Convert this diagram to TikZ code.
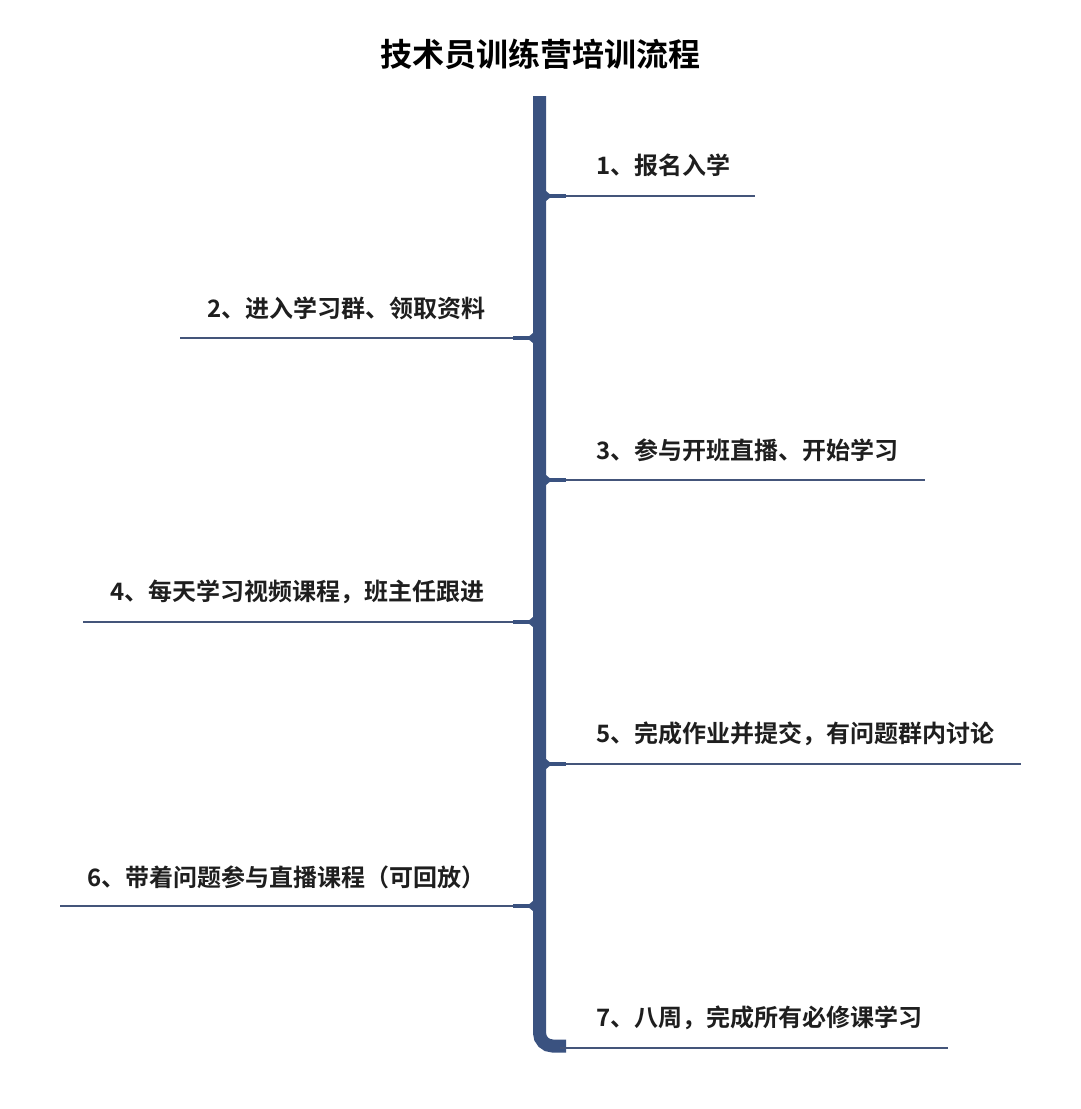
\documentclass[tikz,border=0pt]{standalone}
\usepackage{fontspec}
\newfontfamily\cjk{Noto Sans CJK SC Bold}
\definecolor{spinec}{HTML}{3A5280}
\definecolor{branchc}{HTML}{44557A}
\definecolor{txtc}{HTML}{1E1E1E}
\tikzset{
  spineline/.style={draw=spinec, line width=13pt},
  branchline/.style={draw=branchc, line width=2.6pt},
  stubline/.style={draw=spinec, line width=4.5pt},
  steptext/.style={inner sep=0pt, text=txtc, font=\cjk\fontsize{24}{26}\selectfont},
  titletext/.style={inner sep=0pt, text=black, font=\cjk\fontsize{32}{34}\selectfont}
}
\begin{document}
\begin{tikzpicture}[x=1pt,y=-1pt]
\useasboundingbox (0,0) rectangle (1080,1109);
\fill[white] (0,0) rectangle (1080,1109);

\node[titletext] (title) at (540,54) {技术员训练营培训流程};

% spine
\coordinate (stop) at (539.5,96);
\coordinate (sbot) at (539.5,1046);
\coordinate (sturn) at (566,1046);
\draw[spineline, rounded corners=13pt] (stop) -- (sbot) -- (sturn);

% right branches
\coordinate (j1) at (546,196);  \coordinate (e1) at (755,196);
\coordinate (j3) at (546,480);  \coordinate (e3) at (925,480);
\coordinate (j5) at (546,764);  \coordinate (e5) at (1021,764);
\coordinate (j7) at (560,1048); \coordinate (e7) at (948,1048);
% left branches
\coordinate (j2) at (533,338);  \coordinate (e2) at (180,338);
\coordinate (j4) at (533,622);  \coordinate (e4) at (83,622);
\coordinate (j6) at (533,906);  \coordinate (e6) at (60,906);

\foreach \i in {1,3,5,7,2,4,6} {
  \draw[branchline] (j\i) -- (e\i);
}
\foreach \i/\s in {1/20,3/20,5/20,2/-20,4/-20,6/-20} {
  \draw[stubline] (j\i) -- ++(\s,0);
  \fill[spinec] (j\i) ++(0,-5) -- ++(0,10) -- ++(0.3*\s,-5) -- cycle;
}

\node[steptext, anchor=west] (t1) at (596,165) {1、报名入学};
\node[steptext, anchor=west] (t2) at (207,308) {2、进入学习群、领取资料};
\node[steptext, anchor=west] (t3) at (596,450) {3、参与开班直播、开始学习};
\node[steptext, anchor=west] (t4) at (110,592) {4、每天学习视频课程，班主任跟进};
\node[steptext, anchor=west] (t5) at (596,734) {5、完成作业并提交，有问题群内讨论};
\node[steptext, anchor=west] (t6) at (87,877) {6、带着问题参与直播课程（可回放）};
\node[steptext, anchor=west] (t7) at (596,1018) {7、八周，完成所有必修课学习};
\end{tikzpicture}
\end{document}
